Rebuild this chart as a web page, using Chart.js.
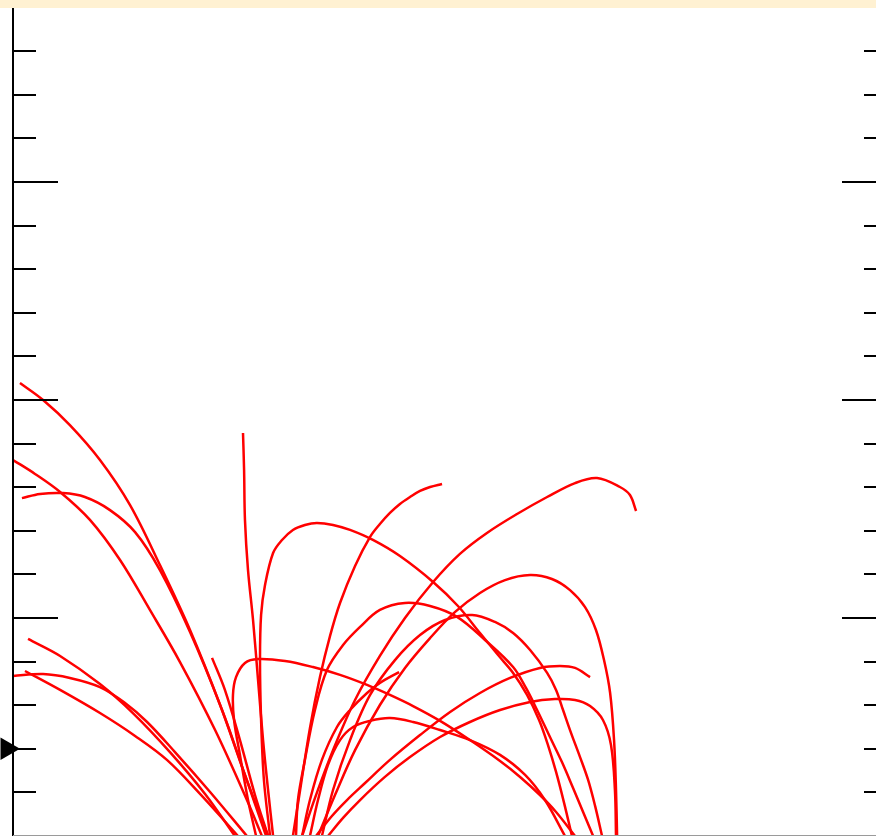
<!DOCTYPE html>
<html>
<head>
<meta charset="utf-8">
<script src="https://cdn.jsdelivr.net/npm/chart.js@4/dist/chart.umd.min.js"></script>
<style>
  html, body { margin: 0; padding: 0; background: #ffffff; overflow: hidden; }
  #wrap { position: relative; width: 876px; height: 836px; overflow: hidden; background: #ffffff; }
  #plot { position: absolute; left: 0; top: 0; }
  #band { position: absolute; left: 0; top: 0; width: 876px; height: 8px; background: #fff1d2; }
</style>
</head>
<body>
<div id="wrap">
  <canvas id="plot" width="900" height="836"></canvas>
  <div id="band"></div>
</div>
<script>
// Field-line traces, [x, height] pairs in plot units (major tick = 10 units)
const lineA = [[0.32,20.78],[1.38,20.0],[2.61,18.85],[3.99,17.25],[5.37,15.18],[6.74,12.43],[8.12,9.45],[9.50,6.01],[10.64,2.80],[11.70,0]];
const lineB = [[0,17.25],[1.01,16.61],[2.16,15.78],[3.53,14.50],[4.91,12.66],[6.28,10.37],[7.66,7.98],[9.27,4.86],[10.73,1.65],[11.42,0]];
const lineC = [[0.41,15.50],[1.24,15.69],[2.29,15.73],[3.30,15.55],[4.45,14.95],[5.60,13.94],[6.74,12.20],[8.12,9.36],[9.59,5.78],[10.64,2.80],[11.61,0]];
const lineD = [[0.69,9.04],[2.16,8.26],[3.99,6.97],[5.50,5.64],[7.20,3.85],[8.81,1.93],[10.18,0]];
const lineE = [[0,7.34],[1.38,7.43],[2.61,7.25],[3.99,6.83],[5.14,6.10],[6.15,5.23],[7.43,3.85],[9.04,2.02],[10.73,0]];
const lineF = [[0.55,7.57],[2.16,6.70],[3.99,5.64],[5.60,4.59],[7.06,3.49],[8.58,1.93],[10.32,0]];
const lineG = [[10.55,18.49],[10.60,16.79],[10.64,14.50],[10.78,12.20],[11.01,9.91],[11.24,7.16],[11.47,4.40],[11.70,2.11],[11.93,0]];
const lineH = [[9.13,8.17],[9.72,6.70],[10.41,4.40],[11.10,1.88],[11.70,0]];
const loopI = [[11.79,0],[11.51,2.57],[11.38,5.32],[11.33,8.07],[11.38,10.14],[11.56,11.51],[11.93,12.98],[12.34,13.58],[12.84,14.04],[13.39,14.27],[13.94,14.36],[14.68,14.27],[15.46,14.04],[16.51,13.58],[17.75,12.84],[19.27,11.65],[20.41,10.55],[21.42,9.31],[22.25,8.30],[22.94,7.48],[23.58,6.47],[24.13,5.32],[24.54,4.17],[24.91,2.94],[25.28,1.51],[25.64,0]];
const loopJ = [[11.15,0],[10.78,1.65],[10.41,3.72],[10.14,5.32],[10.09,6.47],[10.23,7.29],[10.64,7.94],[11.24,8.12],[12.48,8.03],[13.76,7.75],[15.0,7.39],[16.24,6.93],[17.29,6.47],[18.35,5.96],[19.59,5.28],[20.96,4.40],[22.34,3.44],[23.26,2.71],[24.17,1.88],[24.91,1.10],[25.78,0]];
const lineK = [[19.68,16.15],[19.13,16.01],[18.67,15.83],[18.21,15.55],[17.75,15.23],[17.29,14.82],[16.83,14.31],[16.38,13.72],[15.69,12.39],[15.0,10.69],[14.54,9.17],[14.08,7.29],[13.62,4.95],[13.17,2.11],[12.84,0]];
const lineL = [[28.58,14.91],[28.30,15.64],[27.84,16.01],[26.79,16.42],[25.78,16.19],[24.50,15.55],[23.12,14.77],[21.74,13.90],[20.50,12.94],[19.27,11.65],[17.98,10.0],[16.83,8.26],[15.69,6.24],[14.68,3.94],[13.85,1.74],[13.26,0]];
const loopM = [[27.71,0],[27.66,2.11],[27.57,4.40],[27.39,6.56],[27.11,8.07],[26.74,9.45],[26.24,10.50],[25.55,11.28],[24.72,11.79],[23.72,11.97],[22.57,11.74],[21.42,11.15],[20.28,10.28],[19.13,9.08],[17.98,7.71],[16.83,6.01],[15.69,3.94],[14.77,1.88],[13.99,0]];
const loopN = [[12.98,0],[13.07,1.65],[13.39,3.49],[13.85,5.78],[14.40,7.61],[15.14,8.76],[15.92,9.59],[16.83,10.37],[17.98,10.69],[19.13,10.55],[20.37,10.05],[21.65,8.99],[22.94,7.75],[23.53,6.79],[24.04,5.78],[24.63,4.54],[25.18,3.39],[25.69,2.20],[26.15,1.10],[26.61,0]];
const loopO = [[14.17,0],[14.68,2.11],[15.46,4.40],[16.38,6.47],[17.52,8.07],[18.67,9.22],[19.82,9.91],[21.06,10.14],[22.11,9.82],[22.94,9.31],[23.72,8.53],[24.50,7.48],[24.91,6.70],[25.23,5.78],[25.60,4.72],[26.01,3.62],[26.38,2.57],[26.70,1.38],[27.02,0]];
const lineP = [[26.47,7.29],[25.78,7.71],[25.09,7.80],[24.17,7.71],[22.80,7.25],[21.42,6.56],[20.05,5.69],[18.67,4.63],[17.29,3.49],[16.15,2.43],[15.32,1.65],[14.63,0.92],[13.90,0]];
const loopQ = [[27.66,0],[27.61,2.11],[27.43,4.17],[27.06,5.32],[26.47,5.96],[25.78,6.24],[24.86,6.28],[23.72,6.15],[22.34,5.78],[20.96,5.23],[19.59,4.54],[18.21,3.62],[17.06,2.71],[15.92,1.65],[15.14,0.83],[14.45,0]];
const loopR = [[13.62,0],[13.99,1.65],[14.45,3.26],[15.0,4.40],[15.60,5.0],[16.38,5.28],[17.29,5.41],[18.35,5.23],[19.59,4.86],[20.96,4.40],[22.34,3.72],[23.49,2.80],[24.40,1.65],[25.32,0]];
const lineS = [[13.26,0],[13.62,1.65],[14.17,3.49],[14.86,5.0],[15.46,5.78],[16.24,6.56],[16.83,7.02],[17.71,7.52]];

const traces = [lineA, lineB, lineC, lineD, lineE, lineF, lineG, lineH, loopI, loopJ,
                lineK, lineL, loopM, loopN, loopO, lineP, loopQ, loopR, lineS];

// Reference height marker on the left axis
const marker = [[-0.275, 4.0]];

// Axis extents and tick spacing
const xRange = [0, 40.09];
const yRange = [0, 38.35];
const minorStep = 2;
const majorStep = 10;

const datasets = traces.map(t => ({
  data: t.map(([x, y]) => ({ x, y })),
  showLine: true,
  borderColor: '#ff0000',
  borderWidth: 2.5,
  pointRadius: 0,
  tension: 0.35,
  fill: false
}));
datasets.push({
  data: marker.map(([x, y]) => ({ x, y })),
  showLine: false,
  pointStyle: 'triangle',
  rotation: 90,
  pointRadius: 13,
  backgroundColor: '#000000',
  borderWidth: 0,
  clip: false
});

// Axis line and inward-pointing ticks on both sides, drawn over the traces
const frame = {
  id: 'frame',
  afterDatasetsDraw(chart) {
    const { ctx, chartArea: a } = chart;
    const y = chart.scales.y;
    ctx.save();
    ctx.fillStyle = '#000000';
    ctx.fillRect(a.left - 1, a.top, 2, a.bottom - a.top);
    y.ticks.forEach(t => {
      const v = t.value;
      if (Math.abs(v / minorStep - Math.round(v / minorStep)) > 1e-6) return;
      const major = Math.abs(v / majorStep - Math.round(v / majorStep)) < 1e-6;
      const len = major ? 45 : 23;
      const py = Math.round(y.getPixelForValue(v));
      if (py >= a.bottom - 1) return;
      ctx.fillRect(a.left, py - 1, len, 2);
      ctx.fillRect(a.right - len, py - 1, len, 2);
    });
    ctx.fillStyle = '#9a9a9a';
    ctx.fillRect(a.left, a.bottom - 1, a.right - a.left, 1);
    ctx.restore();
  }
};

new Chart(document.getElementById('plot'), {
  type: 'scatter',
  data: { datasets },
  options: {
    responsive: false,
    animation: false,
    devicePixelRatio: 1,
    layout: { autoPadding: false, padding: { left: 13, right: 13, top: 0, bottom: 0 } },
    plugins: { legend: { display: false }, tooltip: { enabled: false } },
    elements: { line: { capBezierPoints: false } },
    scales: {
      x: {
        type: 'linear', min: xRange[0], max: xRange[1],
        grid: { display: false, drawTicks: false },
        border: { display: false },
        ticks: { display: false }
      },
      y: {
        type: 'linear', min: yRange[0], max: yRange[1],
        grid: { display: false, drawTicks: false },
        border: { display: false },
        ticks: { display: false, stepSize: minorStep }
      }
    }
  },
  plugins: [frame]
});
</script>
</body>
</html>
